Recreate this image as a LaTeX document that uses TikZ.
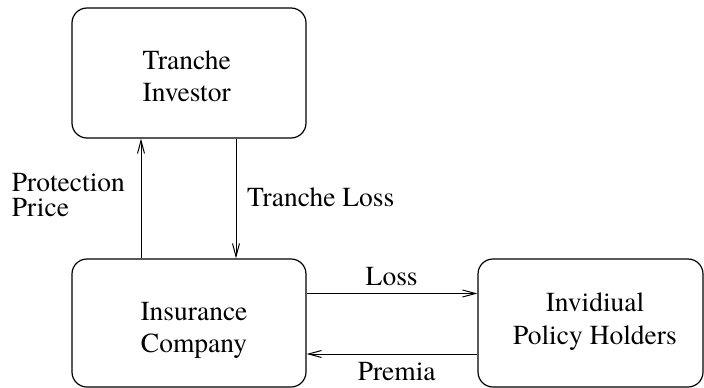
\documentclass[tikz,border=0pt]{standalone}
\usepackage{fontspec}
\setmainfont{TeX Gyre Termes}
\usetikzlibrary{arrows.meta}
\begin{document}
\begin{tikzpicture}[x=1pt,y=-1pt,
  every node/.style={font=\rmfamily\fontsize{27.5}{33}\selectfont},
  boxnode/.style={draw,line width=1.2pt,rounded corners=15pt,inner sep=0pt},
  txt/.style={anchor=base,inner sep=0pt},
  txtw/.style={anchor=base west,inner sep=0pt},
  arr/.style={line width=1pt,-{Straight Barb[length=13pt,width=7pt,line width=1pt]}}]
\useasboundingbox (0,0) rectangle (704,388);
% boxes
\node[boxnode,minimum width=234pt,minimum height=130pt] (inv) at (189,73) {};
\node[boxnode,minimum width=234pt,minimum height=128pt] (ins) at (189,323) {};
\node[boxnode,minimum width=225pt,minimum height=128pt] (ind) at (590.5,323) {};
% box texts
\node[txt] (t1) at (186.7,69.3) {Tranche};
\node[txt] (t2) at (186.7,101.7) {Investor};
\node[txt] (t3) at (194,320) {Insurance};
\node[txt] (t4) at (194,352.7) {Company};
\node[txt] (t5) at (595,311.7) {Invidiual};
\node[txt] (t6) at (595,344.3) {Policy Holders};
% connectors
\draw[arr] ([xshift=-48pt]ins.north) -- ([xshift=-48pt]inv.south);
\draw[arr] ([xshift=47pt]inv.south) -- ([xshift=47pt]ins.north);
\draw[arr] ([yshift=29.5pt]ins.east) -- ([yshift=29.5pt]ind.west);
\draw[arr] ([yshift=-31pt]ind.west) -- ([yshift=-31pt]ins.east);
% labels
\node[txtw] (l1) at (11.7,191) {Protection};
\node[txtw] (l2) at (11.7,216) {Price};
\node[txtw] (l3) at (247,206.7) {Tranche Loss};
\node[txt] (l4) at (391.7,285) {Loss};
\node[txt] (l5) at (396.7,380) {Premia};
\end{tikzpicture}
\end{document}
